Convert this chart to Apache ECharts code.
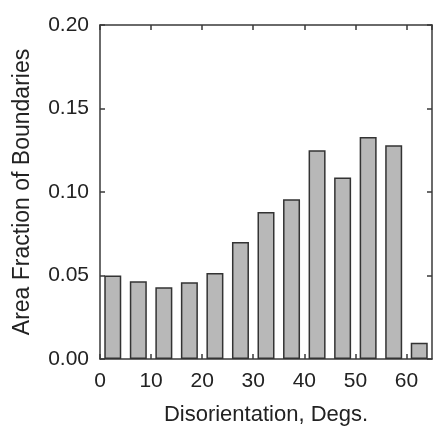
<!DOCTYPE html>
<html>
<head>
<meta charset="utf-8">
<script src="https://cdn.jsdelivr.net/npm/echarts@6/dist/echarts.min.js"></script>
<style>
  html, body { margin: 0; padding: 0; background: #fff; }
  #chart { width: 434px; height: 431px; }
</style>
</head>
<body>
<div id="chart"></div>
<script>
// bar centres (degrees) and area fractions
var binCentres = [2.5, 7.5, 12.5, 17.5, 22.5, 27.5, 32.5, 37.5, 42.5, 47.5, 52.5, 57.5, 62.5];
var areaFraction = [0.050, 0.0465, 0.043, 0.046, 0.0515, 0.070, 0.088, 0.0957, 0.125, 0.1087, 0.133, 0.128, 0.0098];
var xTicks = [0, 10, 20, 30, 40, 50, 60];
var yTicks = ['0.00', '0.05', '0.10', '0.15', '0.20'];

var fontName = 'Liberation Sans, Arial, sans-serif';
var lineColor = '#3a3a3a';

var barData = binCentres.map(function(x, i){
  return [x, areaFraction[i]];
});

var drawCharts = echarts.init(document.getElementById('chart'));
var option = {
  animation: false,
  grid: {
    left: 100,
    right: 2,
    top: 25,
    bottom: 70
  },
  xAxis: [
    {
      type: 'value',
      min: 0,
      max: 65,
      interval: 10,
      name: 'Disorientation, Degs.',
      nameLocation: 'middle',
      nameGap: 45,
      nameTextStyle: { fontFamily: fontName, fontSize: 22, color: '#222' },
      axisLine: { show: true, onZero: false, lineStyle: { color: lineColor, width: 1.5 } },
      axisTick: { show: true, inside: true, length: 5, lineStyle: { color: lineColor, width: 1.5 } },
      axisLabel: {
        showMaxLabel: false,
        margin: 12,
        fontFamily: fontName,
        fontSize: 21,
        color: '#222',
        formatter: function(v){ return xTicks.indexOf(v) >= 0 ? String(v) : ''; }
      },
      splitLine: { show: false }
    },
    {
      type: 'value',
      position: 'top',
      min: 0,
      max: 65,
      interval: 10,
      axisLine: { show: true, onZero: false, lineStyle: { color: lineColor, width: 1.5 } },
      axisTick: { show: true, inside: true, length: 5, lineStyle: { color: lineColor, width: 1.5 } },
      axisLabel: { show: false },
      splitLine: { show: false }
    }
  ],
  yAxis: [
    {
      type: 'value',
      min: 0,
      max: 0.2,
      interval: 0.05,
      name: 'Area Fraction of Boundaries',
      nameLocation: 'middle',
      nameGap: 66,
      nameTextStyle: { fontFamily: fontName, fontSize: 23, color: '#222' },
      axisLine: { show: true, onZero: false, lineStyle: { color: lineColor, width: 1.5 } },
      axisTick: { show: true, inside: true, length: 5, lineStyle: { color: lineColor, width: 1.5 } },
      axisLabel: {
        margin: 11,
        fontFamily: fontName,
        fontSize: 21,
        color: '#222',
        formatter: function(v){ return yTicks[Math.round(v / 0.05)]; }
      },
      splitLine: { show: false }
    },
    {
      type: 'value',
      position: 'right',
      min: 0,
      max: 0.2,
      interval: 0.05,
      axisLine: { show: true, onZero: false, lineStyle: { color: lineColor, width: 1.5 } },
      axisTick: { show: true, inside: true, length: 5, lineStyle: { color: lineColor, width: 1.5 } },
      axisLabel: { show: false },
      splitLine: { show: false }
    }
  ],
  series: [
    {
      type: 'bar',
      xAxisIndex: 0,
      yAxisIndex: 0,
      barWidth: 17,
      itemStyle: {
        color: '#b8b8b8',
        borderColor: '#333',
        borderWidth: 1.5
      },
      data: barData
    }
  ]
};
drawCharts.setOption(option);
</script>
</body>
</html>
